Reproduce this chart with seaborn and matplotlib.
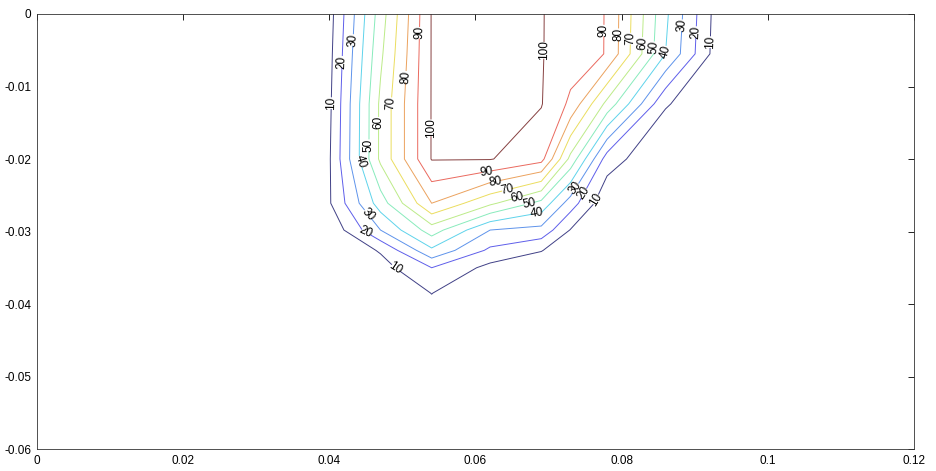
import numpy as np
import matplotlib
matplotlib.use("Agg")
import matplotlib.pyplot as plt
import seaborn as sns

# grid node positions (m)
x_nodes = [0.030, 0.040, 0.047, 0.054, 0.062, 0.069, 0.073, 0.078, 0.086, 0.094, 0.105]
y_nodes = [0.0, -0.0055, -0.0124, -0.020, -0.0261, -0.0298, -0.0326, -0.035, -0.0385, -0.046]

# values per row, top to bottom
z_r0 = [0, 6, 55, 100.5, 100.5, 100.5, 95.5, 89.5, 42, 1, 0]
z_r1 = [0, 7, 58, 100.5, 100.5, 100.5, 95, 89.5, 40, 0.5, 0]
z_r2 = [0, 8, 62, 100.5, 100.5, 100.5, 88, 57, 11, 0, 0]
z_r3 = [0, 9, 62, 100.5, 100.5, 93.5, 57, 15, 0, 0, 0]
z_r4 = [0, 9, 45, 80, 62, 47, 25, 2, 0, 0, 0]
z_r5 = [0, 2, 30, 55, 30, 27, 9.5, 0, 0, 0, 0]
z_r6 = [0, 0, 11, 38, 18, 10.5, 3, 0, 0, 0, 0]
z_r7 = [0, 0, 6, 20, 7, 3, 0, 0, 0, 0, 0]
z_r8 = [0, 0, 0, 10.2, 0, 0, 0, 0, 0, 0, 0]
z_r9 = [0, 0, 0, 0, 0, 0, 0, 0, 0, 0, 0]

levels = [10, 20, 30, 40, 50, 60, 70, 80, 90, 100]
x_ticks = [0, 0.02, 0.04, 0.06, 0.08, 0.1, 0.12]
x_ticklabels = ["0", "0.02", "0.04", "0.06", "0.08", "0.1", "0.12"]
y_ticks = [0, -0.01, -0.02, -0.03, -0.04, -0.05, -0.06]
y_ticklabels = ["0", "-0.01", "-0.02", "-0.03", "-0.04", "-0.05", "-0.06"]

# where the contour labels sit (x, y), as placed in the original
label_x = [0.0404, 0.0418, 0.0434, 0.0437, 0.0451, 0.0462, 0.0484, 0.0510, 0.0527, 0.0542,
           0.0452, 0.0448, 0.0491,
           0.0616, 0.0627, 0.0643, 0.0658, 0.0674, 0.0684,
           0.0740, 0.0755, 0.0772,
           0.0679, 0.0784, 0.0800, 0.0813, 0.0829, 0.0845, 0.0861, 0.0888, 0.0903, 0.0925]
label_y = [-0.0123, -0.0066, -0.0036, -0.0206, -0.0181, -0.0150, -0.0123, -0.0087, -0.0026, -0.0157,
           -0.0277, -0.0307, -0.0350,
           -0.0219, -0.0233, -0.0243, -0.0257, -0.0266, -0.0275,
           -0.0243, -0.0253, -0.0261,
           -0.0050, -0.0023, -0.0028, -0.0034, -0.0040, -0.0046, -0.0052, -0.0016, -0.0025, -0.0039]

sns.set_style("white")
plt.rcParams["font.family"] = ["Liberation Sans", "DejaVu Sans"]

Z = np.array([z_r0, z_r1, z_r2, z_r3, z_r4, z_r5, z_r6, z_r7, z_r8, z_r9])
X, Y = np.meshgrid(x_nodes, y_nodes)

# faded jet line colours, like the thin lines of the original
jet = plt.get_cmap("jet")
line_colors = []
for i in range(len(levels)):
    c = np.array(jet(i / (len(levels) - 1))[:3])
    c = c * 0.55 + 0.45 - 0.08
    if i in (0, len(levels) - 1):
        c = c - 0.12
    line_colors.append(tuple(np.clip(c, 0, 1)))

fig = plt.figure(figsize=(9.37, 4.71), dpi=100)
ax = fig.add_axes([37 / 937, 1 - 449 / 471, 877 / 937, 435 / 471])

cs = ax.contour(X, Y, Z, levels=levels, colors=line_colors, linewidths=0.7)
ax.clabel(cs, fmt="%d", fontsize=8.5, colors="black", inline=True, inline_spacing=1,
          manual=list(zip(label_x, label_y)))

ax.set_xlim(0, 0.12)
ax.set_ylim(-0.06, 0)
ax.set_xticks(x_ticks)
ax.set_xticklabels(x_ticklabels)
ax.set_yticks(y_ticks)
ax.set_yticklabels(y_ticklabels)
ax.tick_params(direction="in", length=4, width=0.6, top=True, right=True,
               labelsize=8.5, colors="black", pad=4)
for s in ax.spines.values():
    s.set_linewidth(0.6)
    s.set_color("#333333")

fig.savefig("out.png", dpi=100)
